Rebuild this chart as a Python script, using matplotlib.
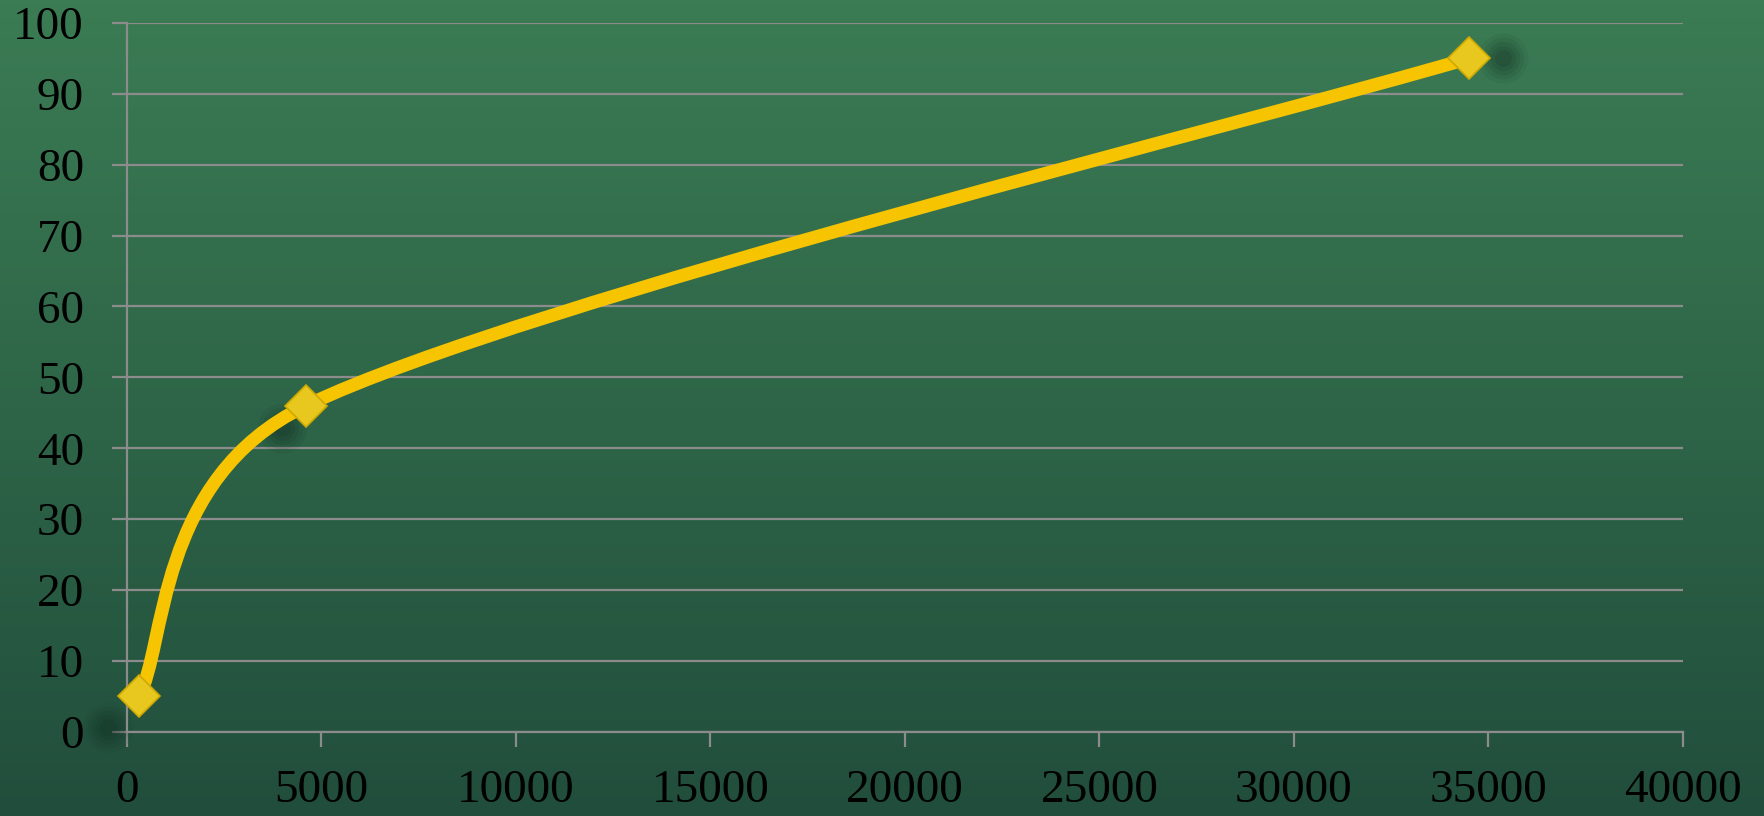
import matplotlib.pyplot as plt
import numpy as np
from matplotlib.path import Path
from matplotlib.patches import PathPatch
from matplotlib import transforms

# data
x_vals = [300, 4600, 34500]
y_vals = [5, 46, 95]
x_ticks = [0, 5000, 10000, 15000, 20000, 25000, 30000, 35000, 40000]
y_ticks = [0, 10, 20, 30, 40, 50, 60, 70, 80, 90, 100]

plt.rcParams['font.family'] = ['Liberation Serif', 'DejaVu Serif']

fig = plt.figure(figsize=(17.64, 8.16), dpi=100)

# chalkboard style background gradient
bg = fig.add_axes([0, 0, 1, 1], zorder=-10)
grad = np.linspace(0, 1, 256).reshape(-1, 1)
top = np.array([59, 124, 84]) / 255
bot = np.array([33, 78, 60]) / 255
img = top + (bot - top) * grad[..., None]
bg.imshow(img, aspect='auto', extent=[0, 1, 0, 1])
bg.axis('off')

ax = fig.add_axes([0.072, 0.103, 0.882, 0.869])
ax.patch.set_alpha(0)
ax.set_xlim(0, 40000)
ax.set_ylim(0, 100)
ax.set_xticks(x_ticks)
ax.set_yticks(y_ticks)
ax.tick_params(axis='both', colors='#8c8c8c', labelcolor='black', labelsize=34,
               length=11, width=1.6)
ax.tick_params(axis='y', pad=20)
ax.tick_params(axis='x', pad=16)
ax.grid(axis='y', color='#8c8c8c', lw=1.6)
ax.set_axisbelow(True)
for s in ['top', 'right']:
    ax.spines[s].set_visible(False)
for s in ['left', 'bottom']:
    ax.spines[s].set_color('#8c8c8c')
    ax.spines[s].set_linewidth(1.6)


def smooth_ctrl(p0, p1, p2, p3):
    # spreadsheet-style smoothing: bezier control points between p1 and p2
    d02 = np.linalg.norm(p2 - p0)
    d12 = np.linalg.norm(p2 - p1)
    d13 = np.linalg.norm(p3 - p1)
    f1 = 1 / 6 if d02 / 6 < d12 / 2 else d12 / d02 / 2
    f2 = 1 / 6 if d13 / 6 < d12 / 2 else d12 / d13 / 2
    return p1 + (p2 - p0) * f1, p2 - (p3 - p1) * f2


pts = ax.transData.transform(np.column_stack([x_vals, y_vals]))
ext = np.vstack([pts[:1], pts, pts[-1:]])
verts = [pts[0]]
for i in range(len(pts) - 1):
    b1, b2 = smooth_ctrl(ext[i], ext[i + 1], ext[i + 2], ext[i + 3])
    verts += [b1, b2, pts[i + 1]]
verts = ax.transData.inverted().transform(np.array(verts))
codes = [Path.MOVETO] + [Path.CURVE4] * (len(verts) - 1)
ax.add_patch(PathPatch(Path(verts, codes), fill=False, ec='#f6c400', lw=9.5,
                       capstyle='butt', zorder=3))

# soft marker shadows
offsets = [(-31, -31), (-24, -22), (34, 0)]
for (xv, yv), (dx, dy) in zip(zip(x_vals, y_vals), offsets):
    tr = transforms.offset_copy(ax.transData, fig=fig, x=dx, y=dy, units='dots')
    for r, a in zip([36, 30, 24, 18, 12], [0.07, 0.09, 0.11, 0.13, 0.15]):
        ax.plot(xv, yv, 'o', ms=r, color='#102a1e', alpha=a, mec='none',
                transform=tr, zorder=2, clip_on=False)

ax.plot(x_vals, y_vals, 'D', ms=21, color='#e8c81e', mec='#cda800', mew=1.2,
        zorder=4, clip_on=False)

plt.savefig('out.png', dpi=100)
